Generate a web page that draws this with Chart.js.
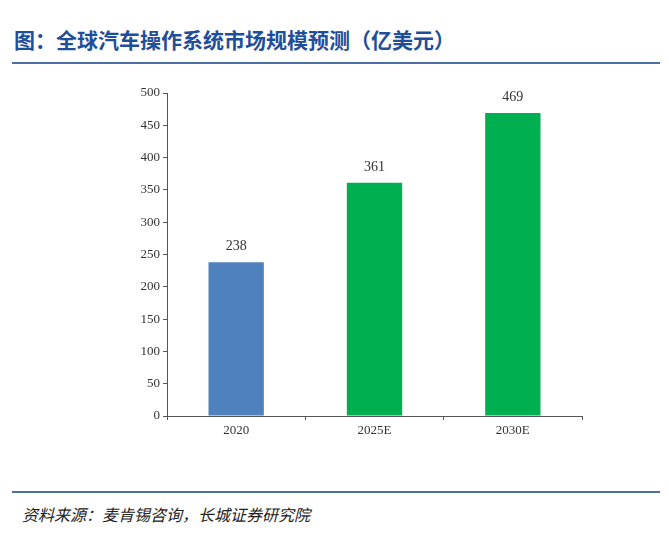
<!DOCTYPE html>
<html>
<head>
<meta charset="utf-8">
<script src="https://cdn.jsdelivr.net/npm/chart.js@4"></script>
<style>
  body { margin: 0; background: #fff; width: 669px; height: 534px; position: relative; overflow: hidden; }
  #title { position: absolute; left: 14px; top: 24px; font: bold 21px "Noto Sans CJK SC"; color: #1f4e9a; }
  .rule { position: absolute; left: 12px; width: 648px; height: 2px; background: #4a6fa5; }
  #source { position: absolute; left: 22px; top: 502px; font: italic 16px "Noto Sans CJK SC"; color: #222; }
  #wrap { position: absolute; left: 0; top: 0; width: 669px; height: 534px; }
</style>
</head>
<body>
<div id="title">图：全球汽车操作系统市场规模预测（亿美元）</div>
<div class="rule" style="top:62px"></div>
<div class="rule" style="top:491px"></div>
<div id="source">资料来源：麦肯锡咨询，长城证券研究院</div>
<div id="wrap"><canvas id="chart"></canvas></div>
<script>
// data
const categories = ["2020", "2025E", "2030E"];
const values = [238, 361, 469];
const barColors = ["#4f81bd", "#00b050", "#00b050"];

const valueLabels = {
  id: "valueLabels",
  afterDatasetsDraw(chart) {
    const ctx = chart.ctx;
    ctx.save();
    ctx.font = "14px 'Liberation Serif'";
    ctx.fillStyle = "#333";
    ctx.textAlign = "center";
    chart.getDatasetMeta(0).data.forEach((bar, i) => {
      ctx.fillText(values[i], bar.x, bar.y - 12);
    });
    ctx.restore();
  }
};

new Chart(document.getElementById("chart"), {
  type: "bar",
  data: {
    labels: categories,
    datasets: [{ data: values, backgroundColor: barColors, categoryPercentage: 0.4, barPercentage: 1 }]
  },
  plugins: [valueLabels],
  options: {
    responsive: true,
    maintainAspectRatio: false,
    animation: false,
    layout: { padding: { left: 127, right: 87, top: 93, bottom: 98 } },
    plugins: { legend: { display: false }, tooltip: { enabled: false } },
    scales: {
      y: {
        min: 0, max: 500,
        ticks: { stepSize: 50, color: "#333", font: { family: "Liberation Serif", size: 13 } },
        grid: { drawOnChartArea: false, tickLength: 4, color: "#555" },
        border: { color: "#555" },
        afterFit(s) { s.width = 40; }
      },
      x: {
        ticks: { color: "#333", font: { family: "Liberation Serif", size: 13 } },
        grid: { drawOnChartArea: false, tickLength: 4, color: "#555", offset: true },
        border: { color: "#555" },
        afterFit(s) { s.height = 20; }
      }
    }
  }
});
</script>
</body>
</html>
